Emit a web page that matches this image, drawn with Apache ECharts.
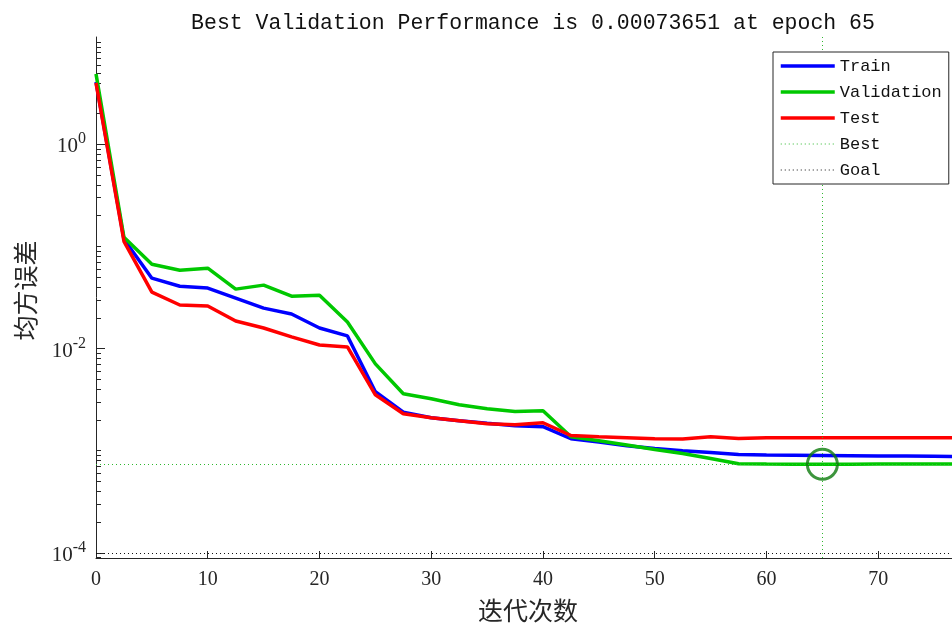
<!DOCTYPE html>
<html>
<head>
<meta charset="utf-8">
<script src="https://cdn.jsdelivr.net/npm/echarts@6/dist/echarts.min.js"></script>
<style>
  html, body { margin: 0; padding: 0; background: #ffffff; }
  #chart { width: 952px; height: 628px; }
</style>
</head>
<body>
<div id="chart"></div>
<script>
// Training record: mean squared error per epoch (logged every 2.5 epochs)
const epochs = [0, 2.5, 5, 7.5, 10, 12.5, 15, 17.5, 20, 22.5, 25, 27.5, 30, 32.5, 35, 37.5,
  40, 42.5, 45, 47.5, 50, 52.5, 55, 57.5, 60, 62.5, 65, 67.5, 70, 72.5, 75, 77.5];
const trainPerf = [4.08, 0.1174, 0.0489, 0.0408, 0.0391, 0.0312, 0.0249, 0.0218, 0.0159, 0.0133,
  0.00378, 0.00238, 0.00210, 0.00197, 0.00186, 0.00176, 0.00172, 0.00131, 0.00122, 0.00112,
  0.00105, 0.00100, 0.00096, 0.000917, 0.000908, 0.000903, 0.000898, 0.000894, 0.000890,
  0.000886, 0.000882, 0.000878];
const valPerf = [4.89, 0.1227, 0.0670, 0.0585, 0.0612, 0.0382, 0.0418, 0.0326, 0.0333, 0.0182,
  0.00708, 0.00361, 0.00323, 0.00282, 0.00258, 0.00242, 0.00246, 0.00137, 0.00125, 0.00114,
  0.00103, 0.00094, 0.00084, 0.000745, 0.000741, 0.000739, 0.00073651, 0.000738, 0.000740,
  0.000741, 0.000742, 0.000743];
const testPerf = [3.99, 0.1122, 0.0357, 0.0267, 0.0261, 0.0186, 0.0159, 0.0130, 0.01084, 0.01037,
  0.00353, 0.00230, 0.00210, 0.00197, 0.00184, 0.00180, 0.00188, 0.00141, 0.00137, 0.00134,
  0.00131, 0.00130, 0.00137, 0.00132, 0.00134, 0.00134, 0.00134, 0.00134, 0.00134, 0.00134,
  0.00134, 0.00134];
const bestEpoch = 65;
const bestPerf = 0.00073651;
const goalPerf = 1e-4;

// Axis ticks
const xTicks = [0, 10, 20, 30, 40, 50, 60, 70];
const yTickExps = [-4, -2, 0];
const seriesNames = ['Train', 'Validation', 'Test', 'Best', 'Goal'];

// Log-scale mapping: values are drawn on a linear axis of log10(value)
const yMinExp = -4.05, yMaxExp = 1.05;
const xMax = 76.6;
const lg = v => Math.log10(v);
const toPoints = arr => epochs.map((e, i) => [e, lg(arr[i])]);

// Minor ticks for the log axis (2..9 within each decade, plus unlabeled decades)
const minorTicks = [];
for (let n = -5; n <= 1; n++) {
  for (let k = 1; k <= 9; k++) {
    const v = Math.log10(k) + n;
    if (k === 1 && yTickExps.includes(n)) continue;
    if (v >= yMinExp && v <= yMaxExp) minorTicks.push(v);
  }
}

const axisColor = '#262626';
const serif = '"Liberation Serif", "DejaVu Serif", serif';
const mono = '"Liberation Mono", "DejaVu Sans Mono", monospace';
const cjk = '"Noto Sans CJK SC", sans-serif';

const chart = echarts.init(document.getElementById('chart'), null, { renderer: 'canvas' });

const lineSeries = (name, data, color) => ({
  name, type: 'line', data: toPoints(data), symbol: 'none', showSymbol: false,
  lineStyle: { color, width: 3.5 }, itemStyle: { color }, z: 3, animation: false
});

const option = {
  animation: false,
  backgroundColor: '#ffffff',
  title: {
    text: 'Best Validation Performance is ' + bestPerf + ' at epoch ' + bestEpoch,
    left: 528, top: 7, textAlign: 'center',
    textStyle: { fontFamily: mono, fontSize: 21.5, fontWeight: 'normal', color: '#111111' }
  },
  grid: { left: 96, right: 0, top: 37, bottom: 68, containLabel: false },
  legend: {
    data: seriesNames,
    orient: 'vertical', left: 773, top: 52,
    padding: [5, 7, 5, 6], itemGap: 8, itemWidth: 54, itemHeight: 14,
    backgroundColor: '#ffffff', borderColor: axisColor, borderWidth: 1,
    itemStyle: { opacity: 0 },
    lineStyle: { width: 'inherit' },
    textStyle: { fontFamily: mono, fontSize: 17, color: '#111111', lineHeight: 18 },
    z: 10
  },
  xAxis: {
    type: 'value', min: 0, max: xMax,
    name: '迭代次数', nameLocation: 'middle', nameGap: 40,
    nameTextStyle: { fontFamily: cjk, fontSize: 25, color: axisColor, padding: [0, 0, 0, 8] },
    axisLine: { show: true, onZero: false, lineStyle: { color: axisColor, width: 1 } },
    axisTick: { show: true, inside: true, length: 7, customValues: xTicks, lineStyle: { color: axisColor } },
    axisLabel: { customValues: xTicks, margin: 12, fontFamily: serif, fontSize: 20, color: axisColor },
    splitLine: { show: false }
  },
  yAxis: [
    {
      type: 'value', min: yMinExp, max: yMaxExp, position: 'left',
      name: '均方误差', nameLocation: 'middle', nameGap: 58,
      nameTextStyle: { fontFamily: cjk, fontSize: 25, color: axisColor, padding: [0, 0, 0, 14] },
      axisLine: { show: true, onZero: false, lineStyle: { color: axisColor, width: 1 } },
      axisTick: { show: true, inside: true, length: 9, customValues: yTickExps, lineStyle: { color: axisColor } },
      axisLabel: {
        customValues: yTickExps, margin: 10,
        formatter: v => '{b|10}{s|' + Math.round(v) + '}',
        rich: {
          b: { fontFamily: serif, fontSize: 21, color: axisColor, verticalAlign: 'bottom', lineHeight: 26 },
          s: { fontFamily: serif, fontSize: 16, color: axisColor, verticalAlign: 'top', lineHeight: 16 }
        }
      },
      splitLine: { show: false }
    },
    {
      type: 'value', min: yMinExp, max: yMaxExp, position: 'left',
      axisLine: { show: false, onZero: false },
      axisTick: { show: true, inside: true, length: 5, customValues: minorTicks, lineStyle: { color: axisColor } },
      axisLabel: { show: false },
      splitLine: { show: false }
    }
  ],
  series: [
    lineSeries('Train', trainPerf, '#0000ff'),
    lineSeries('Validation', valPerf, '#00c800'),
    lineSeries('Test', testPerf, '#ff0000'),
    {
      name: 'Best', type: 'line', data: [], symbol: 'none',
      lineStyle: { color: '#2eb82e', width: 1, type: [1, 3] }, itemStyle: { color: '#2eb82e' },
      markLine: {
        silent: true, symbol: 'none', label: { show: false }, animation: false,
        lineStyle: { color: '#2eb82e', width: 1, type: [1, 3] },
        data: [{ xAxis: bestEpoch }, { yAxis: lg(bestPerf) }]
      },
      z: 2
    },
    {
      name: 'Goal', type: 'line', data: [], symbol: 'none',
      lineStyle: { color: '#111111', width: 1, type: [1, 3] }, itemStyle: { color: '#111111' },
      markLine: {
        silent: true, symbol: 'none', label: { show: false }, animation: false,
        lineStyle: { color: '#111111', width: 1, type: [1, 3] },
        data: [{ yAxis: lg(goalPerf) }]
      },
      z: 2
    },
    {
      name: 'bestMarker', type: 'scatter', data: [[bestEpoch, lg(bestPerf)]],
      symbol: 'circle', symbolSize: 30, silent: true,
      itemStyle: { color: 'rgba(0,0,0,0)', borderColor: '#0c7a0c', borderWidth: 3 },
      z: 4
    }
  ]
};

chart.setOption(option);
</script>
</body>
</html>
